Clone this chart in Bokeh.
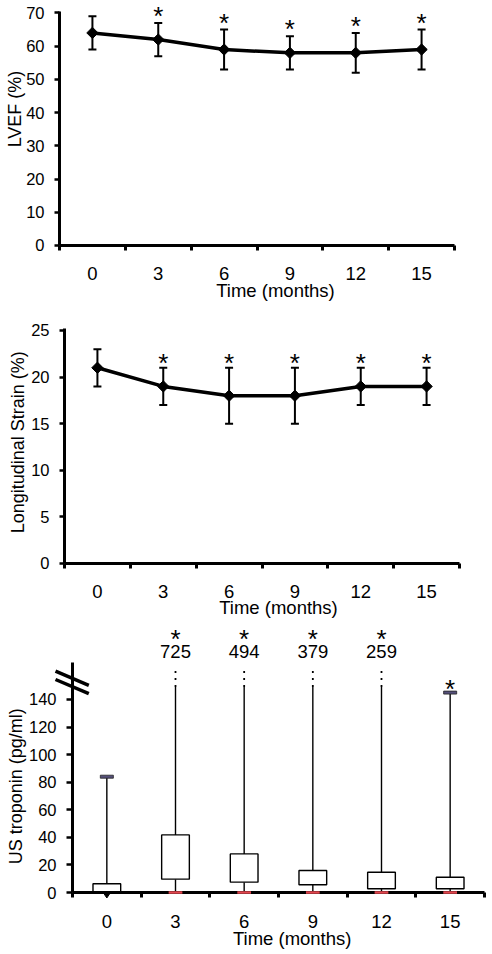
import math
from bokeh.plotting import figure
from bokeh.layouts import column
from bokeh.models import Range1d, FixedTicker, Label, Whisker, TeeHead, ColumnDataSource, Arrow
from bokeh.embed import file_html
from bokeh.resources import INLINE
from bokeh.core.properties import value

FONT = "Liberation Sans"

# ---------------- data ----------------
months = [0, 3, 6, 9, 12, 15]
month_labels = ["0", "3", "6", "9", "12", "15"]
boundaries = [-1.5, 1.5, 4.5, 7.5, 10.5, 13.5, 16.5]
x_title = "Time (months)"

lvef_mean = [64, 62, 59, 58, 58, 59]
lvef_low = [59, 57, 53, 53, 52, 53]
lvef_high = [69, 67, 65, 63, 64, 65]
lvef_sig = [False, True, True, True, True, True]
lvef_ticks = [0, 10, 20, 30, 40, 50, 60, 70]
lvef_title = "LVEF (%)"

strain_mean = [21, 19, 18, 18, 19, 19]
strain_low = [19, 17, 15, 15, 17, 17]
strain_high = [23, 21, 21, 21, 21, 21]
strain_sig = [False, True, True, True, True, True]
strain_ticks = [0, 5, 10, 15, 20, 25]
strain_title = "Longitudinal Strain (%)"

trop_min = [0, 0, 0, 0, 0, 0]
trop_q1 = [0, 9.7, 7.5, 5.6, 2.7, 2.7]
trop_q3 = [6.3, 41.8, 28, 16, 14.7, 11.1]
trop_max = [84, 725, 494, 379, 259, 145]
trop_sig = [False, True, True, True, True, True]
trop_ticks = [0, 20, 40, 60, 80, 100, 120, 140]
trop_break = 149
trop_title = "US troponin (pg/ml)"


def base_fig(height, xr, yr, y_ticks, y_bound, tick_out):
    p = figure(width=492, height=height, x_range=Range1d(*xr),
               y_range=Range1d(*yr), output_backend="svg",
               toolbar_location=None, min_border=0, min_border_left=0,
               min_border_right=0, min_border_top=0, min_border_bottom=0)
    p.outline_line_color = None
    p.grid.visible = False
    p.background_fill_color = "white"
    p.border_fill_color = "white"
    xa = p.xaxis[0]
    xa.fixed_location = 0
    xa.bounds = (boundaries[0], boundaries[-1])
    xa.ticker = FixedTicker(ticks=months, minor_ticks=boundaries)
    xa.major_label_overrides = {m: l for m, l in zip(months, month_labels)}
    xa.axis_line_width = 3
    xa.axis_line_color = "black"
    xa.major_tick_out = 0
    xa.major_tick_in = 0
    xa.major_tick_line_color = None
    xa.minor_tick_out = 5
    xa.minor_tick_in = 0
    xa.minor_tick_line_width = 3
    xa.minor_tick_line_color = "black"
    xa.major_label_text_font = FONT
    xa.major_label_text_font_size = "18.5px"
    xa.major_label_text_color = "black"
    xa.major_label_standoff = 17
    ya = p.yaxis[0]
    ya.fixed_location = boundaries[0]
    ya.ticker = FixedTicker(ticks=y_ticks)
    ya.bounds = (0, y_bound)
    ya.axis_line_width = 3
    ya.axis_line_color = "black"
    ya.major_tick_out = tick_out
    ya.major_tick_in = 0
    ya.major_tick_line_width = 2.5
    ya.major_tick_line_color = "black"
    ya.minor_tick_line_color = None
    ya.major_label_text_font = FONT
    ya.major_label_text_font_size = "16.5px"
    ya.major_label_text_color = "black"
    ya.major_label_standoff = 10
    return p


def add_titles(p, xt_x, xt_y, yt_x, yt_y, ytext):
    p.add_layout(Label(x=xt_x, y=xt_y, text=x_title, text_align="center",
                       text_baseline="alphabetic", text_font=FONT,
                       text_font_size="18.5px", text_color="black"))
    p.add_layout(Label(x=yt_x, y=yt_y, text=ytext, angle=math.pi / 2,
                       text_align="center", text_baseline="middle",
                       text_font=FONT, text_font_size="18px",
                       text_color="black"))


def line_panel(p, mean, low, high, sig, star_off):
    p.line(months, mean, line_width=3.5, line_color="black")
    src = ColumnDataSource(dict(x=months, lower=low, upper=high))
    p.add_layout(Whisker(source=src, base="x", lower="lower", upper="upper",
                         line_width=2, line_color="black",
                         upper_head=TeeHead(size=8, line_width=2, line_color="black"),
                         lower_head=TeeHead(size=8, line_width=2, line_color="black")))
    p.scatter(months, mean, marker="square", angle=math.pi / 4, size=8,
              fill_color="black", line_color="black")
    sx = [m for m, s in zip(months, sig) if s]
    sy = [h for h, s in zip(high, sig) if s]
    p.text(x=sx, y=sy, text=["*"] * len(sx), text_align="center",
           text_baseline="alphabetic", text_font=value(FONT),
           text_font_size="26px", text_color="black", y_offset=star_off)


# ---------------- panel 1: LVEF ----------------
p1 = base_fig(301, (-4.189, 18.232), (-16.86, 73.76), lvef_ticks, 70.4, 5)
line_panel(p1, lvef_mean, lvef_low, lvef_high, lvef_sig, -7)
add_titles(p1, 8.343, -13.46, -3.551, 41.10, lvef_title)

# ---------------- panel 2: strain ----------------
p2 = base_fig(319, (-4.417, 18.004), (-6.116, 28.11), strain_ticks, 25.2, 5)
line_panel(p2, strain_mean, strain_low, strain_high, strain_sig, -5)
add_titles(p2, 8.252, -4.68, -3.619, 13.01, strain_title)

# ---------------- panel 3: troponin ----------------
p3 = base_fig(332, (-4.646, 16.85), (-43.52, 197.3), trop_ticks, 167, 6)
shown_top = [min(v, trop_break) for v in trop_max]
p3.scatter(x=[m for m, q in zip(months, trop_q1) if q == 0],
           y=[v for v, q in zip(trop_min, trop_q1) if q == 0],
           marker="diamond", size=11, fill_color="black", line_color="black")
p3.segment(x0=months, y0=trop_q3, x1=months, y1=shown_top,
           line_width=1.4, line_color="black")
p3.segment(x0=months, y0=trop_min, x1=months, y1=trop_q1,
           line_width=1.4, line_color="black")
p3.vbar(x=months, width=1.21, bottom=trop_q1, top=trop_q3,
        fill_color="white", line_color="black", line_width=1.4)

cap_x = [m for m, v in zip(months, trop_max) if v <= trop_break]
cap_y = [v for v in trop_max if v <= trop_break]
p3.rect(x=cap_x, y=cap_y, width=0.57, height=3, height_units="screen",
        fill_color="#55507a", line_color="#222222", line_width=0.8)
low_x = [m for m, q in zip(months, trop_q1) if q > 0]
low_y = [v for v, q in zip(trop_min, trop_q1) if q > 0]
p3.rect(x=low_x, y=low_y, width=0.6, height=2.5, height_units="screen",
        fill_color="#e2474f", line_color=None, level="overlay")

brk_x = [m for m, v in zip(months, trop_max) if v > trop_break]
brk_lab = [str(v) for v in trop_max if v > trop_break]
p3.segment(x0=brk_x, y0=[trop_break] * len(brk_x), x1=brk_x,
           y1=[trop_break + 15] * len(brk_x), line_width=1.8,
           line_color="black", line_dash="2 5")
p3.text(x=brk_x, y=[trop_break + 25.8] * len(brk_x), text=brk_lab,
        text_align="center", text_baseline="alphabetic",
        text_font=value(FONT), text_font_size="18.5px", text_color="black")
star_x = [m for m, s in zip(months, trop_sig) if s]
star_y = [(trop_break + 34.7) if v > trop_break else (v + 2.8)
          for v, s in zip(trop_max, trop_sig) if s]
p3.text(x=star_x, y=star_y, text=["*"] * len(star_x), text_align="center",
        text_baseline="alphabetic", text_font=value(FONT),
        text_font_size="26px", text_color="black")

# axis break marks
for dy in (0, -6):
    p3.add_layout(Arrow(start=None, end=None, x_start=-2.243, y_start=160.5 + dy,
                        x_end=-0.788, y_end=150.2 + dy, line_width=3.5,
                        line_color="black"))

add_titles(p3, 8.098, -33.08, -3.955, 77.03, trop_title)

layout = column(p1, p2, p3, spacing=0)
open("out.html", "w").write(file_html(layout, INLINE))
